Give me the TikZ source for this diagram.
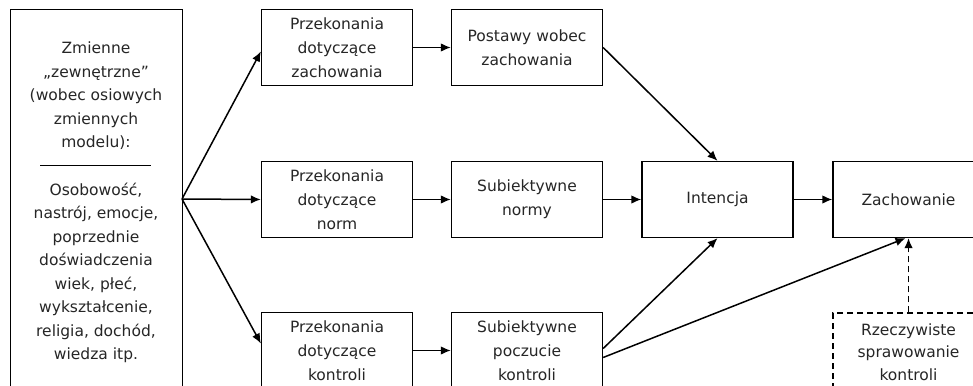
\documentclass[tikz,border=0pt]{standalone}
\usepackage{fontspec}
\setmainfont{DejaVu Sans}
\usetikzlibrary{arrows.meta}
\begin{document}
\begin{tikzpicture}[x=1pt,y=-1pt,
  box/.style={draw, line width=1.3pt, minimum width=151pt, minimum height=76pt, inner sep=0pt, align=center, font=\fontsize{15.5}{24}\selectfont, text=black!85},
  arr/.style={line width=1.5pt, -{Latex[length=10pt,width=8.5pt]}},
  txt/.style={font=\fontsize{15.5}{23.5}\selectfont, align=center, text=black!85, inner sep=0pt}]
\useasboundingbox (0,0) rectangle (973,385);
\fill[white] (0,0) rectangle (973,385);
\clip (0,0) rectangle (973,385);
% left box
\node[draw, line width=1.3pt, minimum width=172pt, minimum height=400pt, inner sep=0pt, anchor=north west] (ext) at (10,9) {};
\node[txt] (exttop) at (96,96) {Zmienne\\„zewnętrzne”\\(wobec osiowych\\zmiennych\\modelu):};
\node[txt] (extbot) at (96,273) {Osobowość,\\nastrój, emocje,\\poprzednie\\doświadczenia\\wiek, płeć,\\wykształcenie,\\religia, dochód,\\wiedza itp.};
\draw[line width=1pt] (40,165) -- (151,165);
\coordinate (src) at (182,199);
% boxes
\node[box] (a1) at (337,47.5) {Przekonania\\dotyczące\\zachowania};
\node[box] (a2) at (527,47.5) {Postawy wobec\\zachowania};
\node[box] (b1) at (337,199.5) {Przekonania\\dotyczące\\norm};
\node[box] (b2) at (527,199.5) {Subiektywne\\normy};
\node[box] (int) at (717.5,199.5) {Intencja};
\node[box] (zach) at (908.5,199.5) {Zachowanie};
\node[box] (c1) at (337,350.5) {Przekonania\\dotyczące\\kontroli};
\node[box] (c2) at (527,350.5) {Subiektywne\\poczucie\\kontroli};
\node[box, dash pattern=on 6pt off 4pt, minimum height=78pt, font=\fontsize{15.5}{22.5}\selectfont] (rz) at (908.5,352) {Rzeczywiste\\sprawowanie\\kontroli};
% connectors
\draw[arr] (src) -- ([yshift=-4pt]a1.west);
\draw[arr] (src) -- (b1.west);
\draw[arr] (src) -- ([yshift=7pt]c1.west);
\draw[arr] (a1.east) -- (a2.west);
\draw[arr] (b1.east) -- (b2.west);
\draw[arr] (c1.east) -- (c2.west);
\draw[arr] (a2.east) -- (int.north);
\draw[arr] (b2.east) -- (int.west);
\draw[arr] (int.east) -- (zach.west);
\draw[arr] ([yshift=2pt]c2.east) -- (int.south);
\draw[arr] ([yshift=-7pt]c2.east) -- ([xshift=-3pt]zach.south);
\draw[arr, dash pattern=on 6pt off 4pt] (rz.north) -- (zach.south);
\end{tikzpicture}
\end{document}
